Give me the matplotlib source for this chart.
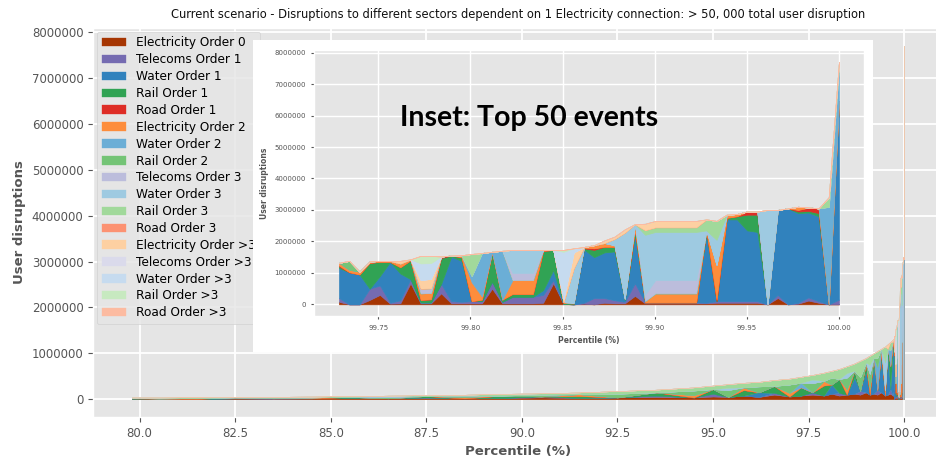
import numpy as np
import matplotlib
matplotlib.use("Agg")
import matplotlib.pyplot as plt
from matplotlib.patches import Rectangle
from matplotlib.ticker import MultipleLocator, FormatStrFormatter

plt.style.use('ggplot')

MILLION = 1e6

# percentile rank of each disruption event: the bulk of the distribution ...
body_pct = [79.8, 80.5, 81.5, 82.5, 83.5, 84.5, 85.5, 86.5, 87.5, 88.5,
            89.5, 90.5, 91.5, 92.5, 93.5, 94.5, 95.0, 95.4, 95.8, 96.2,
            96.6, 97.0, 97.3, 97.6, 97.9, 98.1, 98.3, 98.5, 98.7, 98.85,
            99.0, 99.1, 99.2, 99.3, 99.4, 99.5, 99.57, 99.64, 99.70]
# ... and the 50 largest events (evenly spaced ranks)
top_pct = list(np.linspace(99.7287, 100.0, 50))
n_body = len(body_pct)
pct = body_pct + top_pct
zeros_body = [0] * n_body
zeros_all = [0] * len(pct)

# user disruptions per sector/order, millions (body events, then top 50)
elec0 = ([.01, .015, .01, .02, .01, .02, .03, .02, .03, .02, .03, .04, .03, .04, .05, .04, .06, .05, .08, .05,
          .1, .06, .08, .1, .08, .12, .08, .1, .12, .1, .15, .1, .12, .1, .15, .08, .1, .12, .08] +
         [.08, 0, 0, .14, .3, .02, .03, .67, .03, .03, .35, .03, .03, .03, .03, .5, .03, .03, .03, .03,
          .05, .67, .01, 0, .02, 0, .05, .03, .03, .27, .03, .03, .03, .03, .03, .03, .03, .05, .05, .05,
          .05, .05, 0, .2, 0, .02, .12, .05, 0, 0])
tel1 = ([0, 0, 0, 0, .01, 0, 0, 0, .01, 0, 0, .02, 0, 0, .03, 0, .06, 0, 0, 0,
         .04, 0, 0, .05, 0, 0, .06, 0, 0, .08, 0, 0, 0, .1, 0, 0, 0, .1, 0] +
        [.12, 0, 0, .36, .3, .03, .1, .13, .03, .03, .3, .07, .05, .07, .07, .22, .05, .21, .21, .21,
         .25, .1, 0, 0, .03, .2, .15, .1, .05, .4, .03, .03, .03, .03, .03, .03, .02, .05, .05, .05,
         .05, .05, 0, .1, 0, .03, .1, .05, 0, .15])
water1 = ([0, 0, 0, 0, 0, 0, 0, 0, 0, 0, 0, 0, 0, 0, 0, 0, 0, 0, 0, .1,
           0, 0, 0, 0, 0, .2, 0, 0, .35, 0, .45, 0, .6, 0, .75, 0, .85, 0, .95] +
          [.95, 1.02, .95, 0, .3, 1.3, .85, 0, 0, 0, 0, 1.42, 1.3, 0, 0, 0, 0, 0, 0, 0,
           .15, .32, 0, 0, 1.7, 1.3, 1.45, 1.55, .05, 1.53, 0, 0, 0, 0, 0, 0, 2.2, 0, 2.6, 2.6,
           2.25, 2.2, 0, 2.7, 3.05, 2.85, 2.7, 2.7, 0, 6.3])
rail1 = ([.01, 0, 0, .02, 0, 0, .02, 0, .03, 0, .05, 0, .04, 0, .07, 0, .1, 0, .12, 0,
          .15, 0, .18, 0, .22, 0, .3, 0, .15, 0, .15, 0, .18, 0, .1, 0, .15, .5, .12] +
         [.05, 0, 0, .82, .45, 0, .2, .6, .08, .1, .82, .03, .12, 0, .05, .93, .07, .09, .09, .09,
          1.25, .64, .03, .03, .03, .23, .18, .15, .05, .16, 0, 0, 0, 0, 0, 0, .1, 0, .05, .1,
          .5, .55, 0, 0, 0, .05, .05, .1, 0, 0])
road1 = (zeros_body +
         [.03, 0, 0, 0, 0, 0, 0, 0, 0, 0, .05, 0, 0, 0, 0, 0, 0, 0, 0, 0,
          0, 0, 0, 0, .02, .05, 0, 0, 0, 0, 0, 0, 0, 0, 0, 0, 0, .05, 0, 0,
          .1, .1, 0, 0, 0, .05, .1, .15, 0, 0])
elec2 = ([.01, 0, .015, 0, 0, .02, 0, 0, 0, .03, 0, 0, .04, 0, 0, .05, 0, 0, .06, 0,
          0, .08, 0, 0, .1, 0, 0, .12, 0, 0, .05, .15, 0, 0, .1, .12, 0, 0, .1] +
         [.09, .08, .09, .04, .03, .03, .12, .03, .21, .2, 0, 0, .06, .6, .1, .02, 0, .44, .44, .44,
          .03, 0, .03, .02, .02, .1, .12, .05, 0, .19, .05, .29, .29, .29, .29, .29, 0, 1.1, .1, .07,
          0, 0, 0, 0, 0, .1, .01, 0, 0, 0])
water2 = ([0, 0, 0, 0, 0, 0, 0, 0, 0, 0, 0, 0, 0, 0, 0, 0, 0, 0, 0, 0,
           0, 0, .1, 0, 0, 0, 0, 0, 0, 0, 0, 0, 0, .5, 0, 0, 0, .35, 0] +
          [0, 0, 0, 0, 0, 0, 0, 0, 0, 0, 0, 0, 0, .2, 1.38, 0, 1.55, 0, 0, 0,
           0, 0, 0, 0, 0, 0, 0, 0, 0, 0, 0, 0, 0, 0, 0, 0, 0, 0, 0, 0,
           0, 0, 0, 0, 0, 0, 0, 0, 3.1, 1.1])
rail2 = ([0, .01, 0, 0, .02, 0, 0, .03, 0, .03, 0, .04, 0, .08, 0, .1, 0, .15, 0, .13,
          0, .18, 0, .2, 0, .15, 0, .25, 0, .3, 0, .3, 0, .2, 0, 0, 0, 0, 0] +
         [0, .28, 0, 0, 0, 0, 0, 0, 0, 0, 0, 0, 0, 0, 0, 0, 0, 0, 0, 0,
          0, 0, 0, 0, 0, 0, 0, 0, 0, 0, 0, 0, 0, 0, 0, 0, 0, 0, 0, 0,
          0, 0, 0, 0, 0, 0, 0, 0, 0, 0])
tel3 = (zeros_body +
        [0, 0, 0, 0, 0, 0, 0, 0, .15, .15, 0, 0, 0, 0, 0, 0, 0, .23, .23, .23,
         0, 0, 0, 0, 0, 0, 0, 0, 0, 0, .2, .42, .42, .42, .42, .42, 0, 0, 0, 0,
         0, 0, 0, 0, 0, 0, 0, 0, 0, 0])
water3 = ([0, 0, 0, 0, 0, 0, 0, .03, 0, 0, 0, 0, 0, 0, 0, 0, 0, .05, 0, 0,
           0, 0, 0, .08, 0, 0, 0, .1, 0, 0, 0, .2, 0, 0, 0, .6, 0, 0, 0] +
          [0, 0, 0, 0, 0, 0, 0, 0, 0, 0, 0, 0, 0, 0, 0, 0, 0, .73, .73, .73,
           0, 0, 0, 1.1, 0, 0, 0, .2, 2.1, 0, 1.9, 1.53, 1.53, 1.53, 1.53, 1.53, 0, .8, 0, 0,
           0, 0, 3.0, 0, 0, 0, 0, 0, 0, 0])
rail3 = ([.01, .015, .02, .01, .015, .02, .02, 0, .02, .02, .04, .03, .04, .06, .06, .07, .08, .08, .1, .1,
          .13, .13, .13, .1, .18, .15, .22, .15, .16, .36, .1, .2, .1, .15, 0, .35, 0, .18, 0] +
         [0, 0, 0, 0, 0, 0, 0, 0, 0, 0, 0, 0, 0, .7, 0, 0, 0, 0, 0, 0,
          0, 0, 0, 0, 0, 0, 0, 0, 0, 0, .15, .15, .15, .15, .15, .15, .35, .6, 0, 0,
          0, 0, 0, 0, 0, 0, 0, 0, .3, .15])
road3 = zeros_all
elec4 = ([0, 0, 0, 0, 0, 0, 0, 0, 0, 0, 0, 0, 0, 0, 0, 0, 0, 0, 0, 0,
          0, 0, 0, 0, 0, 0, 0, 0, 0, 0, 0, 0, 0, 0, 0, 0, .1, 0, .05] +
         [0, 0, 0, 0, 0, 0, .08, 0, .27, .3, 0, 0, 0, 0, 0, 0, 0, 0, 0, 0,
          0, 0, .1, .5, 0, 0, .08, .07, .1, 0, .2, .2, .2, .2, .2, .2, 0, 0, 0, 0,
          0, 0, 0, 0, 0, 0, 0, 0, 0, 0])
tel4 = zeros_all
water4 = (zeros_body +
          [0, 0, 0, 0, 0, 0, 0, 0, .53, .5, 0, 0, 0, 0, 0, 0, 0, 0, 0, 0,
           0, 0, 1.5, .13, 0, 0, 0, 0, 0, 0, 0, 0, 0, 0, 0, 0, 0, 0, 0, 0,
           0, 0, 0, 0, 0, 0, 0, 0, 0, 0])
rail4 = (zeros_body +
         [0, 0, 0, 0, 0, 0, 0, 0, .24, .23, 0, 0, 0, 0, 0, 0, 0, 0, 0, 0,
          0, 0, .06, 0, 0, 0, 0, 0, 0, 0, 0, 0, 0, 0, 0, 0, 0, 0, 0, 0,
          0, 0, 0, 0, 0, 0, 0, 0, 0, 0])
road4 = zeros_all

labels = ['Electricity Order 0', 'Telecoms Order 1', 'Water Order 1', 'Rail Order 1',
          'Road Order 1', 'Electricity Order 2', 'Water Order 2', 'Rail Order 2',
          'Telecoms Order 3', 'Water Order 3', 'Rail Order 3', 'Road Order 3',
          'Electricity Order >3', 'Telecoms Order >3', 'Water Order >3',
          'Rail Order >3', 'Road Order >3']
colors = ['#a63603', '#756bb1', '#3182bd', '#31a354', '#de2d26', '#fd8d3c',
          '#6baed6', '#74c476', '#bcbddc', '#9ecae1', '#a1d99b', '#fc9272',
          '#fdd0a2', '#dadaeb', '#c6dbef', '#c7e9c0', '#fcbba1']
series = [elec0, tel1, water1, rail1, road1, elec2, water2, rail2, tel3,
          water3, rail3, road3, elec4, tel4, water4, rail4, road4]
stack = np.array(series) * MILLION

fig = plt.figure(figsize=(9.36, 4.63), dpi=100)

# full distribution
ax = fig.add_axes([0.0997, 0.0994, 0.9075, 0.8401])
ax.stackplot(pct, stack, colors=colors, labels=labels,
             linewidth=0.25, edgecolor='face')
ax.set_xlim(78.79, 101.01)
ax.set_ylim(-0.385 * MILLION, 8.085 * MILLION)
ax.xaxis.set_major_locator(MultipleLocator(2.5))
ax.xaxis.set_major_formatter(FormatStrFormatter('%.1f'))
ax.yaxis.set_major_locator(MultipleLocator(MILLION))
ax.yaxis.set_major_formatter(FormatStrFormatter('%d'))
ax.tick_params(labelsize=8.5, colors='#555555')
ax.grid(color='white', linewidth=1.3)
ax.set_xlabel('Percentile (%)', fontsize=9.5, fontweight='bold', color='#555555')
ax.set_ylabel('User disruptions', fontsize=9.5, fontweight='bold', color='#555555')
ax.set_title('Current scenario - Disruptions to different sectors dependent on 1 '
             'Electricity connection: > 50, 000 total user disruption',
             fontsize=8.3, color='#111111', pad=7)
leg = ax.legend(loc='upper left', fontsize=8.7, labelspacing=0.32,
                borderaxespad=0.3, handlelength=2.0, frameon=True)
leg.get_frame().set_facecolor('#E5E5E5')
leg.get_frame().set_edgecolor('#CCCCCC')

# white panel behind the zoomed view
fig.add_artist(Rectangle((0.2703, 0.2397), 0.6624, 0.6739, transform=fig.transFigure,
                         facecolor='white', edgecolor='none', zorder=1))

# zoom on the 50 largest events
ax_in = fig.add_axes([0.3355, 0.3166, 0.5876, 0.5754], zorder=2)
ax_in.stackplot(top_pct, stack[:, n_body:], colors=colors,
                linewidth=0.5, edgecolor='face')
ax_in.set_xlim(99.7151, 100.0136)
ax_in.set_ylim(-0.385 * MILLION, 8.085 * MILLION)
ax_in.xaxis.set_major_locator(MultipleLocator(0.05))
ax_in.xaxis.set_major_formatter(FormatStrFormatter('%.2f'))
ax_in.yaxis.set_major_locator(MultipleLocator(MILLION))
ax_in.yaxis.set_major_formatter(FormatStrFormatter('%d'))
ax_in.tick_params(labelsize=5, colors='#555555', length=2.5)
ax_in.grid(color='white', linewidth=1.0)
ax_in.set_xlabel('Percentile (%)', fontsize=5.5, fontweight='bold', color='#555555')
ax_in.set_ylabel('User disruptions', fontsize=5.5, fontweight='bold', color='#555555')
ax_in.text(0.391, 0.745, 'Inset: Top 50 events', transform=ax_in.transAxes,
           ha='center', va='center', fontsize=20.5, fontweight='bold', color='black',
           family=['Lato', 'DejaVu Sans'])

fig.savefig('out.png', dpi=100)
